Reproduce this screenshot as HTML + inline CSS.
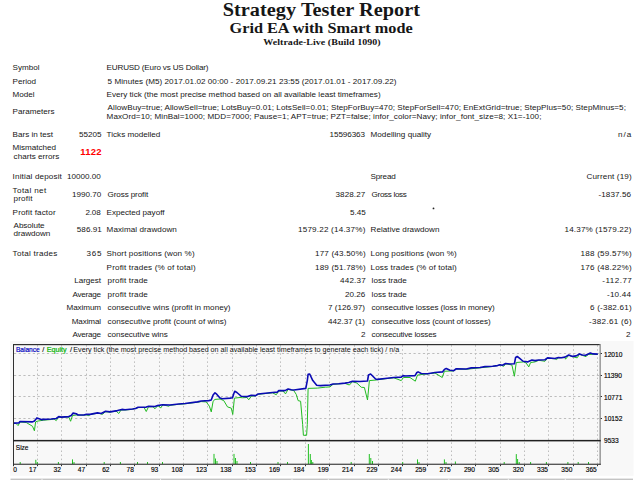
<!DOCTYPE html>
<html><head><meta charset="utf-8"><title>Strategy Tester: Grid EA with Smart mode</title>
<style>
html,body{margin:0;padding:0;background:#fff;width:640px;height:480px;overflow:hidden;position:relative}
.t{position:absolute;white-space:pre;font-family:'Liberation Sans', sans-serif;font-size:8.1px;line-height:8.1px;color:#161616}
svg{position:absolute;left:0;top:0}
</style></head><body>
<svg width="640" height="480" viewBox="0 0 640 480">
<rect x="10" y="341" width="623.6" height="134.8" fill="#f8f8f8"/>
<rect x="10.5" y="478.6" width="622.5" height="1.4" fill="#c4c4c4"/>
<rect x="41.5" y="478.6" width="1" height="1.4" fill="#f0f0f0"/>
<rect x="160.0" y="478.6" width="1" height="1.4" fill="#f0f0f0"/>
<rect x="247.5" y="478.6" width="1" height="1.4" fill="#f0f0f0"/>
<rect x="291.5" y="478.6" width="1" height="1.4" fill="#f0f0f0"/>
<rect x="327.8" y="478.6" width="1" height="1.4" fill="#f0f0f0"/>
<rect x="387.8" y="478.6" width="1" height="1.4" fill="#f0f0f0"/>
<rect x="448.3" y="478.6" width="1" height="1.4" fill="#f0f0f0"/>
<rect x="507.8" y="478.6" width="1" height="1.4" fill="#f0f0f0"/>
<rect x="564.8" y="478.6" width="1" height="1.4" fill="#f0f0f0"/>
<path d="M37.5 345.2V463.7 M61.5 345.2V463.7 M86.5 345.2V463.7 M110.5 345.2V463.7 M134.5 345.2V463.7 M159.5 345.2V463.7 M183.5 345.2V463.7 M207.5 345.2V463.7 M232.5 345.2V463.7 M256.5 345.2V463.7 M280.5 345.2V463.7 M305.5 345.2V463.7 M329.5 345.2V463.7 M354.5 345.2V463.7 M378.5 345.2V463.7 M402.5 345.2V463.7 M427.5 345.2V463.7 M451.5 345.2V463.7 M475.5 345.2V463.7 M500.5 345.2V463.7 M524.5 345.2V463.7 M548.5 345.2V463.7 M573.5 345.2V463.7 M597.5 345.2V463.7" stroke="#bdbdbd" stroke-width="1" stroke-dasharray="1.5 2.55" fill="none"/>
<path d="M14 353.5H599.5 M14 375.5H599.5 M14 396.5H599.5 M14 418.5H599.5" stroke="#bdbdbd" stroke-width="1" stroke-dasharray="2.2 2.5" fill="none"/>
<path d="M20.2 464V462 M35.8 464V459.8 M37.3 464V462 M58.4 464V462 M72.5 464V459.4 M74 464V462 M104.2 464V462 M120.4 464V462 M137.5 464V462 M147.5 464V462 M162.5 464V462 M214 464V453.9 M215.5 464V458.5 M217 464V461 M234 464V453.9 M235.5 464V458 M237 464V461 M250.5 464V462 M278 464V462 M287.5 464V462 M308.4 464V444 M310.3 464V454 M311.4 464V460 M312.8 464V462 M351.2 464V462 M369.3 464V454 M370.8 464V458 M372.5 464V461 M402.7 464V462 M417.5 464V459.4 M419 464V462 M444.4 464V459.4 M446 464V462 M455.4 464V461.5 M504.2 464V462 M516.3 464V454.1 M517.6 464V459 M519.2 464V462 M530.6 464V462 M546.4 464V462 M567.9 464V462 M578.2 464V462 M588.5 464V462" stroke="#22c022" stroke-width="1" fill="none"/>
<polyline points="13.5,423.1 16,423.5 18.1,425.6 19.5,423 20.5,422 26.25,422.5 32.5,426.25 34.4,430.8 35.6,421.9 38,421 43.75,420.2 51.25,419.5 54,419 56.25,420.6 58.5,417.2 68.75,417 70.6,421.25 72.5,415.5 76.25,415 83.75,415.2 86.25,414.8 88.75,415.6 90.5,414.5 97.5,413.2 100,413.6 102.5,414.4 105,411.8 110,412.1 116,411 118.75,413.5 121,410 125,410 132.5,409.3 138.1,407.6 144,407.4 146.25,411.5 148.5,406.8 153,406.8 155,408.75 157.5,405.9 159,406 160.6,408.1 162,406 163.1,404.8 168.75,406.25 170,405.3 178.75,404.3 185,403.8 197.5,402.2 201.25,401.6 206.25,401.9 209.4,406.25 211.25,411.9 213.1,401.25 215,399.4 220,399 223.75,400.6 227.5,406.9 231.25,408.1 232.75,414.4 234.4,398.1 240,397.5 242.5,397.75 246.9,397.5 248.75,399.75 251.25,396.25 255.6,395.8 258.1,394.3 272.5,392.8 276.25,394.75 278.75,391 283,391 285.5,393.9 288.1,389.3 293.75,390.6 296.25,394.4 298.1,400.6 300.6,401.25 302.65,424.4 303.4,435.3 306.6,435.3 307.3,424.4 308.1,388.4 317.5,388.1 325.3,387.2 330,386.9 333,384.3 345,383.4 349.4,385 352.5,381.6 356.9,383.1 361.25,387.25 364.4,387.5 367.5,400 369.4,380.6 376.25,380 377.5,379.7 385,378.8 393.75,377.8 401.25,380.6 403.5,377.5 410,377.5 415.3,381.2 417.5,375 435,373 442.25,377.5 444.4,371.25 450,371 453.75,370.9 456.25,369 466.25,369.3 480,367.8 492.5,366.5 500,365 503.75,366.25 505.6,363.8 511.9,365 514.4,376.25 516.25,362.5 523.75,361.9 526.25,363.1 528.75,366.9 530.6,362.5 535,361.9 538.75,360.3 545,361.25 547.5,358.2 555,358.8 556.6,359.5 558.4,357.9 565,357.4 565.5,359.2 568.75,355.3 572.5,356.7 577.2,357.8 579.5,354.2 582.3,355.3 586,356.7 588.4,354.2 589.8,354.5 593.1,354.2 597.8,354.4" stroke="#22bb22" stroke-width="1" fill="none" stroke-linejoin="round"/>
<polyline points="13.5,423.1 18.75,423 20,421.5 32.5,421.9 34.4,421 36.9,417.9 41.25,419.6 43.75,419.4 51.25,419 56.25,418.5 58.75,416.6 61.25,417.1 68.75,416.6 71.25,415.5 73.1,413.1 76.25,413.75 78.1,415 83.75,415 86.25,414.4 90,414.4 97.5,412.9 101.25,413.5 105.6,411.25 110,411.9 117.5,410.6 121.9,409.4 125,409.75 132.5,409 135.6,408.5 138.1,407.25 146.25,407.1 148.75,406.25 155,406.5 157.5,405.6 162.5,404.75 170,405 178.75,404 185,403.5 197.5,401.9 201.25,401 208.75,400.6 211.25,400 213.1,395 215,392.75 216.9,394.4 220,398.1 222.5,398.75 230,398.1 232.5,397.75 233.75,393.75 234.75,391.25 236.9,392.5 241.25,396.25 247.5,396.6 251.25,395.25 255.6,395.6 258.1,394 272.5,392.5 277.5,392.1 278.75,390.6 285,390.6 288.1,389 291.25,389.75 294,390 305.8,388.4 307.3,380.6 308.1,374.4 309.7,374 312.8,380.6 316.7,385.3 320.6,385.6 330,385 333,384 338.75,383.75 345,383.1 348.75,382.5 352.5,381.25 360,381.5 367.5,381 368.5,375 370.6,374 371.9,375.25 375.6,379 377.5,379.4 385,378.5 393.75,377.5 401.25,377.1 403.1,375.6 405,376 415,375.6 416.9,372.5 418.1,371.9 421.25,373.5 427.5,373.75 435,372.5 442.5,371.9 444.4,369.4 446.25,368.5 450,370.25 453.75,370.6 456.25,368.75 466.25,369 471.25,367.9 480,367.5 485,366.6 492.5,366.25 497.5,365.6 500,364.75 502.5,365.25 505.6,363.5 510,364 514.4,363.75 515.6,357.5 517.25,356.5 519.4,358.1 523.1,361.25 527.5,361.9 531.9,360 535,360.6 538.75,360 545,359.75 547.5,357.9 555,358.5 558.4,357.6 561.25,357.8 565,357.15 568.75,355 572.5,356.4 576.25,355.9 579.5,353.9 582.3,355 585.6,355.2 588.4,353.9 590.3,353.1 593.1,353.9 597.8,354.1" stroke="#0a0ab4" stroke-width="1.6" fill="none" stroke-linejoin="round"/>
<rect x="13" y="344" width="1" height="121" fill="#303030"/>
<rect x="13" y="344" width="587" height="1.2" fill="#303030"/>
<rect x="599.5" y="344" width="1.3" height="121" fill="#8a8a8a"/>
<rect x="13" y="439.9" width="587.7" height="1.5" fill="#202020"/>
<rect x="13" y="463.7" width="587.7" height="1.1" fill="#303030"/>
<path d="M600.7 353.5H602 M600.7 375.5H602 M600.7 396.5H602 M600.7 418.5H602 M13.5 464.8V466.2 M37.5 464.8V466.2 M61.5 464.8V466.2 M86.5 464.8V466.2 M110.5 464.8V466.2 M134.5 464.8V466.2 M159.5 464.8V466.2 M183.5 464.8V466.2 M207.5 464.8V466.2 M232.5 464.8V466.2 M256.5 464.8V466.2 M280.5 464.8V466.2 M305.5 464.8V466.2 M329.5 464.8V466.2 M354.5 464.8V466.2 M378.5 464.8V466.2 M402.5 464.8V466.2 M427.5 464.8V466.2 M451.5 464.8V466.2 M475.5 464.8V466.2 M500.5 464.8V466.2 M524.5 464.8V466.2 M548.5 464.8V466.2 M573.5 464.8V466.2 M597.5 464.8V466.2" stroke="#303030" stroke-width="1" fill="none"/>
<text x="604" y="356.8" font-family="'Liberation Sans', sans-serif" font-size="6.6" fill="#000" stroke="#000" stroke-width="0.15">12010</text>
<text x="604" y="378.4" font-family="'Liberation Sans', sans-serif" font-size="6.6" fill="#000" stroke="#000" stroke-width="0.15">11390</text>
<text x="604" y="399.9" font-family="'Liberation Sans', sans-serif" font-size="6.6" fill="#000" stroke="#000" stroke-width="0.15">10771</text>
<text x="604" y="421.4" font-family="'Liberation Sans', sans-serif" font-size="6.6" fill="#000" stroke="#000" stroke-width="0.15">10152</text>
<text x="604" y="443.0" font-family="'Liberation Sans', sans-serif" font-size="6.6" fill="#000" stroke="#000" stroke-width="0.15">9533</text>
<text x="13.2" y="471.6" font-family="'Liberation Sans', sans-serif" font-size="6.6" fill="#000" stroke="#000" stroke-width="0.15">0</text>
<text x="36.46" y="471.6" text-anchor="end" font-family="'Liberation Sans', sans-serif" font-size="6.6" fill="#000" stroke="#000" stroke-width="0.15">17</text>
<text x="60.82" y="471.6" text-anchor="end" font-family="'Liberation Sans', sans-serif" font-size="6.6" fill="#000" stroke="#000" stroke-width="0.15">32</text>
<text x="85.18" y="471.6" text-anchor="end" font-family="'Liberation Sans', sans-serif" font-size="6.6" fill="#000" stroke="#000" stroke-width="0.15">47</text>
<text x="109.54" y="471.6" text-anchor="end" font-family="'Liberation Sans', sans-serif" font-size="6.6" fill="#000" stroke="#000" stroke-width="0.15">62</text>
<text x="133.90" y="471.6" text-anchor="end" font-family="'Liberation Sans', sans-serif" font-size="6.6" fill="#000" stroke="#000" stroke-width="0.15">78</text>
<text x="158.26" y="471.6" text-anchor="end" font-family="'Liberation Sans', sans-serif" font-size="6.6" fill="#000" stroke="#000" stroke-width="0.15">93</text>
<text x="182.62" y="471.6" text-anchor="end" font-family="'Liberation Sans', sans-serif" font-size="6.6" fill="#000" stroke="#000" stroke-width="0.15">108</text>
<text x="206.98" y="471.6" text-anchor="end" font-family="'Liberation Sans', sans-serif" font-size="6.6" fill="#000" stroke="#000" stroke-width="0.15">123</text>
<text x="231.34" y="471.6" text-anchor="end" font-family="'Liberation Sans', sans-serif" font-size="6.6" fill="#000" stroke="#000" stroke-width="0.15">138</text>
<text x="255.70" y="471.6" text-anchor="end" font-family="'Liberation Sans', sans-serif" font-size="6.6" fill="#000" stroke="#000" stroke-width="0.15">153</text>
<text x="280.06" y="471.6" text-anchor="end" font-family="'Liberation Sans', sans-serif" font-size="6.6" fill="#000" stroke="#000" stroke-width="0.15">169</text>
<text x="304.42" y="471.6" text-anchor="end" font-family="'Liberation Sans', sans-serif" font-size="6.6" fill="#000" stroke="#000" stroke-width="0.15">184</text>
<text x="328.78" y="471.6" text-anchor="end" font-family="'Liberation Sans', sans-serif" font-size="6.6" fill="#000" stroke="#000" stroke-width="0.15">199</text>
<text x="353.14" y="471.6" text-anchor="end" font-family="'Liberation Sans', sans-serif" font-size="6.6" fill="#000" stroke="#000" stroke-width="0.15">214</text>
<text x="377.50" y="471.6" text-anchor="end" font-family="'Liberation Sans', sans-serif" font-size="6.6" fill="#000" stroke="#000" stroke-width="0.15">229</text>
<text x="401.86" y="471.6" text-anchor="end" font-family="'Liberation Sans', sans-serif" font-size="6.6" fill="#000" stroke="#000" stroke-width="0.15">244</text>
<text x="426.22" y="471.6" text-anchor="end" font-family="'Liberation Sans', sans-serif" font-size="6.6" fill="#000" stroke="#000" stroke-width="0.15">259</text>
<text x="450.58" y="471.6" text-anchor="end" font-family="'Liberation Sans', sans-serif" font-size="6.6" fill="#000" stroke="#000" stroke-width="0.15">275</text>
<text x="474.94" y="471.6" text-anchor="end" font-family="'Liberation Sans', sans-serif" font-size="6.6" fill="#000" stroke="#000" stroke-width="0.15">290</text>
<text x="499.30" y="471.6" text-anchor="end" font-family="'Liberation Sans', sans-serif" font-size="6.6" fill="#000" stroke="#000" stroke-width="0.15">305</text>
<text x="523.66" y="471.6" text-anchor="end" font-family="'Liberation Sans', sans-serif" font-size="6.6" fill="#000" stroke="#000" stroke-width="0.15">320</text>
<text x="548.02" y="471.6" text-anchor="end" font-family="'Liberation Sans', sans-serif" font-size="6.6" fill="#000" stroke="#000" stroke-width="0.15">335</text>
<text x="572.38" y="471.6" text-anchor="end" font-family="'Liberation Sans', sans-serif" font-size="6.6" fill="#000" stroke="#000" stroke-width="0.15">350</text>
<text x="596.74" y="471.6" text-anchor="end" font-family="'Liberation Sans', sans-serif" font-size="6.6" fill="#000" stroke="#000" stroke-width="0.15">365</text>
<text x="15.8" y="450" font-family="'Liberation Sans', sans-serif" font-size="6.5" fill="#000" stroke="#000" stroke-width="0.15">Size</text>
<text x="15.9" y="351.8" font-family="'Liberation Sans', sans-serif" font-size="7.4" fill="#0000c0" stroke="#0000c0" stroke-width="0.2" textLength="23.9" lengthAdjust="spacingAndGlyphs">Balance</text>
<text x="42.2" y="351.8" font-family="'Liberation Sans', sans-serif" font-size="7.4" fill="#000" stroke="#000" stroke-width="0.1">/</text>
<text x="46.7" y="351.8" font-family="'Liberation Sans', sans-serif" font-size="7.4" fill="#00b000" stroke="#00b000" stroke-width="0.2" textLength="20" lengthAdjust="spacingAndGlyphs">Equity</text>
<text x="70.1" y="351.8" font-family="'Liberation Sans', sans-serif" font-size="7.4" fill="#000" stroke="#000" stroke-width="0.1">/</text>
<text x="73.3" y="351.8" font-family="'Liberation Sans', sans-serif" font-size="7.4" fill="#111" textLength="326" lengthAdjust="spacingAndGlyphs">Every tick (the most precise method based on all available least timeframes to generate each tick) / n/a</text>
<circle cx="433.5" cy="208.4" r="0.9" fill="#222"/>
</svg>
<div class="t" style="left:222.75px;top:-1.50px;font-family:'Liberation Serif', serif;font-size:20.3px;line-height:20.3px;font-weight:bold;letter-spacing:0.024px;transform:scaleY(0.9);transform-origin:0 17px;">Strategy Tester Report</div>
<div class="t" style="left:229.60px;top:19.80px;font-family:'Liberation Serif', serif;font-size:16.3px;line-height:16.3px;font-weight:bold;letter-spacing:-0.023px;transform:scaleY(0.9);transform-origin:0 13px;">Grid EA with Smart mode</div>
<div class="t" style="left:263.30px;top:36.70px;font-family:'Liberation Serif', serif;font-size:10px;line-height:10px;font-weight:bold;letter-spacing:0.028px;transform:scaleY(0.87);transform-origin:0 8px;">Weltrade-Live (Build 1090)</div>
<div class="t" style="left:12.60px;top:64.00px;">Symbol</div>
<div class="t" style="left:106.60px;top:64.00px;letter-spacing:-0.170px;">EURUSD (Euro vs US Dollar)</div>
<div class="t" style="left:12.60px;top:77.50px;">Period</div>
<div class="t" style="left:107.60px;top:77.50px;letter-spacing:0.048px;">5 Minutes (M5) 2017.01.02 00:00 - 2017.09.21 23:55 (2017.01.01 - 2017.09.22)</div>
<div class="t" style="left:12.60px;top:90.70px;">Model</div>
<div class="t" style="left:106.60px;top:90.70px;letter-spacing:0.013px;">Every tick (the most precise method based on all available least timeframes)</div>
<div class="t" style="left:12.60px;top:108.00px;">Parameters</div>
<div class="t" style="left:107.60px;top:103.70px;letter-spacing:0.056px;">AllowBuy=true; AllowSell=true; LotsBuy=0.01; LotsSell=0.01; StepForBuy=470; StepForSell=470; EnExtGrid=true; StepPlus=50; StepMinus=5;</div>
<div class="t" style="left:106.60px;top:113.20px;letter-spacing:0.079px;">MaxOrd=10; MinBal=1000; MDD=7000; Pause=1; APT=true; PZT=false; infor_color=Navy; infor_font_size=8; X1=-100;</div>
<div class="t" style="left:12.60px;top:131.25px;">Bars in test</div>
<div class="t" style="left:79.00px;top:131.25px;">55205</div>
<div class="t" style="left:106.60px;top:131.25px;">Ticks modelled</div>
<div class="t" style="left:329.60px;top:131.25px;letter-spacing:-0.086px;">15596363</div>
<div class="t" style="left:370.60px;top:131.25px;letter-spacing:0.016px;">Modelling quality</div>
<div class="t" style="left:618.00px;top:131.25px;letter-spacing:1.000px;">n/a</div>
<div class="t" style="left:12.60px;top:144.30px;letter-spacing:-0.022px;">Mismatched</div>
<div class="t" style="left:13.60px;top:153.40px;letter-spacing:0.025px;">charts errors</div>
<div class="t" style="left:80.20px;top:147.00px;font-weight:bold;font-size:9.5px;line-height:9.5px;letter-spacing:0.267px;color:#ff0000;">1122</div>
<div class="t" style="left:12.60px;top:172.60px;letter-spacing:0.143px;">Initial deposit</div>
<div class="t" style="left:66.90px;top:172.60px;letter-spacing:0.014px;">10000.00</div>
<div class="t" style="left:370.60px;top:172.60px;letter-spacing:-0.200px;">Spread</div>
<div class="t" style="left:586.50px;top:172.60px;letter-spacing:0.136px;">Current (19)</div>
<div class="t" style="left:12.60px;top:186.60px;letter-spacing:0.375px;">Total net</div>
<div class="t" style="left:13.60px;top:195.00px;letter-spacing:0.160px;">profit</div>
<div class="t" style="left:72.00px;top:190.70px;">1990.70</div>
<div class="t" style="left:107.60px;top:190.70px;letter-spacing:-0.118px;">Gross profit</div>
<div class="t" style="left:335.50px;top:190.70px;letter-spacing:0.083px;">3828.27</div>
<div class="t" style="left:371.60px;top:190.70px;letter-spacing:-0.333px;">Gross loss</div>
<div class="t" style="left:598.50px;top:190.70px;letter-spacing:0.071px;">-1837.56</div>
<div class="t" style="left:12.60px;top:209.00px;letter-spacing:0.133px;">Profit factor</div>
<div class="t" style="left:85.40px;top:209.00px;letter-spacing:-0.133px;">2.08</div>
<div class="t" style="left:106.60px;top:209.00px;">Expected payoff</div>
<div class="t" style="left:350.00px;top:209.00px;">5.45</div>
<div class="t" style="left:13.60px;top:221.50px;letter-spacing:-0.071px;">Absolute</div>
<div class="t" style="left:13.60px;top:230.40px;letter-spacing:-0.029px;">drawdown</div>
<div class="t" style="left:76.80px;top:225.80px;letter-spacing:0.040px;">586.91</div>
<div class="t" style="left:106.60px;top:225.80px;letter-spacing:0.067px;">Maximal drawdown</div>
<div class="t" style="left:298.00px;top:225.80px;letter-spacing:0.200px;">1579.22 (14.37%)</div>
<div class="t" style="left:370.60px;top:225.80px;letter-spacing:0.031px;">Relative drawdown</div>
<div class="t" style="left:564.50px;top:225.80px;letter-spacing:0.167px;">14.37% (1579.22)</div>
<div class="t" style="left:12.60px;top:250.30px;letter-spacing:0.255px;">Total trades</div>
<div class="t" style="left:86.50px;top:250.30px;letter-spacing:0.750px;">365</div>
<div class="t" style="left:106.60px;top:250.30px;letter-spacing:0.114px;">Short positions (won %)</div>
<div class="t" style="left:315.00px;top:250.30px;letter-spacing:0.182px;">177 (43.50%)</div>
<div class="t" style="left:370.60px;top:250.30px;letter-spacing:0.095px;">Long positions (won %)</div>
<div class="t" style="left:580.50px;top:250.30px;letter-spacing:0.227px;">188 (59.57%)</div>
<div class="t" style="left:106.60px;top:263.70px;letter-spacing:0.160px;">Profit trades (% of total)</div>
<div class="t" style="left:315.00px;top:263.70px;letter-spacing:0.182px;">189 (51.78%)</div>
<div class="t" style="left:370.60px;top:263.70px;letter-spacing:0.130px;">Loss trades (% of total)</div>
<div class="t" style="left:580.50px;top:263.70px;letter-spacing:0.227px;">176 (48.22%)</div>
<div class="t" style="left:74.30px;top:277.30px;letter-spacing:-0.050px;">Largest</div>
<div class="t" style="left:107.60px;top:277.30px;letter-spacing:0.136px;">profit trade</div>
<div class="t" style="left:340.00px;top:277.30px;letter-spacing:0.200px;">442.37</div>
<div class="t" style="left:371.60px;top:277.30px;">loss trade</div>
<div class="t" style="left:602.30px;top:277.30px;letter-spacing:0.450px;">-112.77</div>
<div class="t" style="left:72.50px;top:290.90px;letter-spacing:-0.250px;">Average</div>
<div class="t" style="left:107.60px;top:290.90px;letter-spacing:0.136px;">profit trade</div>
<div class="t" style="left:345.00px;top:290.90px;">20.26</div>
<div class="t" style="left:371.60px;top:290.90px;">loss trade</div>
<div class="t" style="left:607.00px;top:290.90px;letter-spacing:0.200px;">-10.44</div>
<div class="t" style="left:66.50px;top:304.10px;letter-spacing:-0.083px;">Maximum</div>
<div class="t" style="left:107.60px;top:304.10px;letter-spacing:0.030px;">consecutive wins (profit in money)</div>
<div class="t" style="left:328.00px;top:304.10px;">7 (126.97)</div>
<div class="t" style="left:371.60px;top:304.10px;letter-spacing:-0.061px;">consecutive losses (loss in money)</div>
<div class="t" style="left:590.00px;top:304.10px;letter-spacing:0.200px;">6 (-382.61)</div>
<div class="t" style="left:71.70px;top:318.00px;letter-spacing:-0.117px;">Maximal</div>
<div class="t" style="left:107.60px;top:318.00px;letter-spacing:0.030px;">consecutive profit (count of wins)</div>
<div class="t" style="left:328.00px;top:318.00px;">442.37 (1)</div>
<div class="t" style="left:371.60px;top:318.00px;letter-spacing:-0.061px;">consecutive loss (count of losses)</div>
<div class="t" style="left:589.00px;top:318.00px;letter-spacing:0.300px;">-382.61 (6)</div>
<div class="t" style="left:72.50px;top:330.90px;letter-spacing:-0.250px;">Average</div>
<div class="t" style="left:107.60px;top:330.90px;letter-spacing:-0.067px;">consecutive wins</div>
<div class="t" style="left:361.00px;top:330.90px;">2</div>
<div class="t" style="left:371.60px;top:330.90px;letter-spacing:-0.176px;">consecutive losses</div>
<div class="t" style="left:626.00px;top:330.90px;">2</div>
</body></html>
